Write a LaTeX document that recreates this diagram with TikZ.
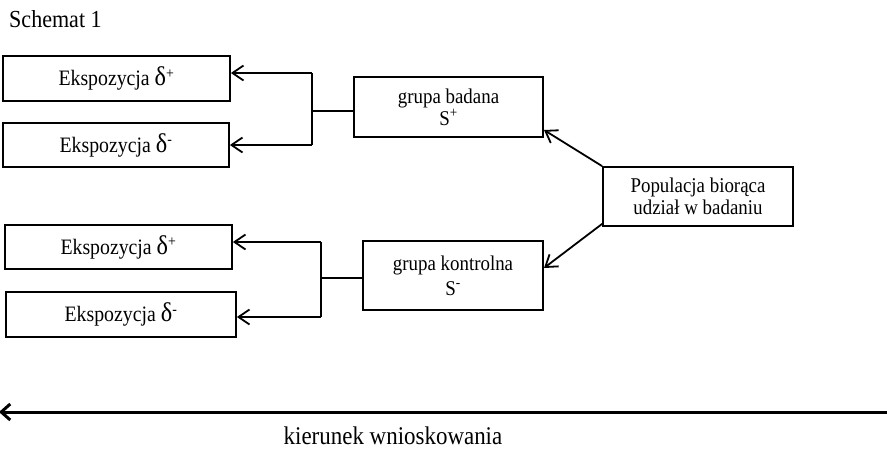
\documentclass[tikz,border=0pt]{standalone}
\usepackage{fontspec}
\setmainfont[FakeStretch=0.9]{Liberation Serif}
\usetikzlibrary{arrows.meta,calc}
\newcommand{\dlt}[1]{{\fontsize{27}{27}\selectfont δ}\textsuperscript{#1}}
\begin{document}
\begin{tikzpicture}[x=1pt,y=-1pt,
  box/.style={draw,line width=1.8pt,inner sep=0pt,align=center,font=\fontsize{21}{22}\selectfont},
  ebox/.style={box,font=\fontsize{22}{24}\selectfont},
  conn/.style={line width=1.8pt},
  arr/.style={line width=1.8pt,-{Straight Barb[length=11pt,width=15pt]}}]
\useasboundingbox (0,0) rectangle (887,448);
\node[anchor=base west,font=\fontsize{24.5}{26}\selectfont,inner sep=0pt] (title) at (9,27) {Schemat 1};
\node[ebox,minimum width=227pt,minimum height=45pt] (e1) at (116.5,78.5) {Ekspozycja \dlt{+}};
\node[ebox,minimum width=226pt,minimum height=44pt] (e2) at (116,145) {Ekspozycja \dlt{-}};
\node[ebox,minimum width=227pt,minimum height=44pt] (e3) at (118.5,247) {Ekspozycja \dlt{+}};
\node[ebox,minimum width=230pt,minimum height=45pt] (e4) at (121,314.5) {Ekspozycja \dlt{-}};
\node[box,minimum width=189pt,minimum height=60pt] (gb) at (448.5,107) {grupa badana\\S\textsuperscript{+}};
\node[box,minimum width=180pt,minimum height=69pt,font=\fontsize{21}{25}\selectfont] (gk) at (453,275.5) {grupa kontrolna\\S\textsuperscript{-}};
\node[box,minimum width=190pt,minimum height=59pt] (pop) at (698,196.5) {Populacja biorąca\\udział w badaniu};
% bracket 1
\coordinate (b1t) at (312,73);
\coordinate (b1m) at (312,111);
\coordinate (b1b) at (312,145);
\draw[conn] (gb.west |- b1m) -- (b1m);
\draw[conn] (b1t) -- (b1b);
\draw[arr] (b1t) -- (e1.east |- b1t);
\draw[arr] (b1b) -- (e2.east |- b1b);
% bracket 2
\coordinate (b2t) at (321,242);
\coordinate (b2m) at (321,278);
\coordinate (b2b) at (321,317);
\draw[conn] (gk.west |- b2m) -- (b2m);
\draw[conn] (b2t) -- (b2b);
\draw[arr] (b2t) -- (e3.east |- b2t);
\draw[arr] (b2b) -- (e4.east |- b2b);
% population arrows
\coordinate (g1) at (544,130);
\coordinate (g2) at (544,268);
\draw[arr] (pop.north west) -- (g1);
\draw[arr] ($(pop.south west)+(0,-3)$) -- (g2);
% direction arrow
\coordinate (dr) at (887,412);
\coordinate (dl) at (-1,412);
\draw[line width=3pt,-{Straight Barb[length=9pt,width=16pt]}] (dr) -- (dl);
\node[anchor=base,inner sep=0pt,font=\fontsize{25.5}{28}\selectfont] (dir) at (393,444) {kierunek wnioskowania};
\end{tikzpicture}
\end{document}
